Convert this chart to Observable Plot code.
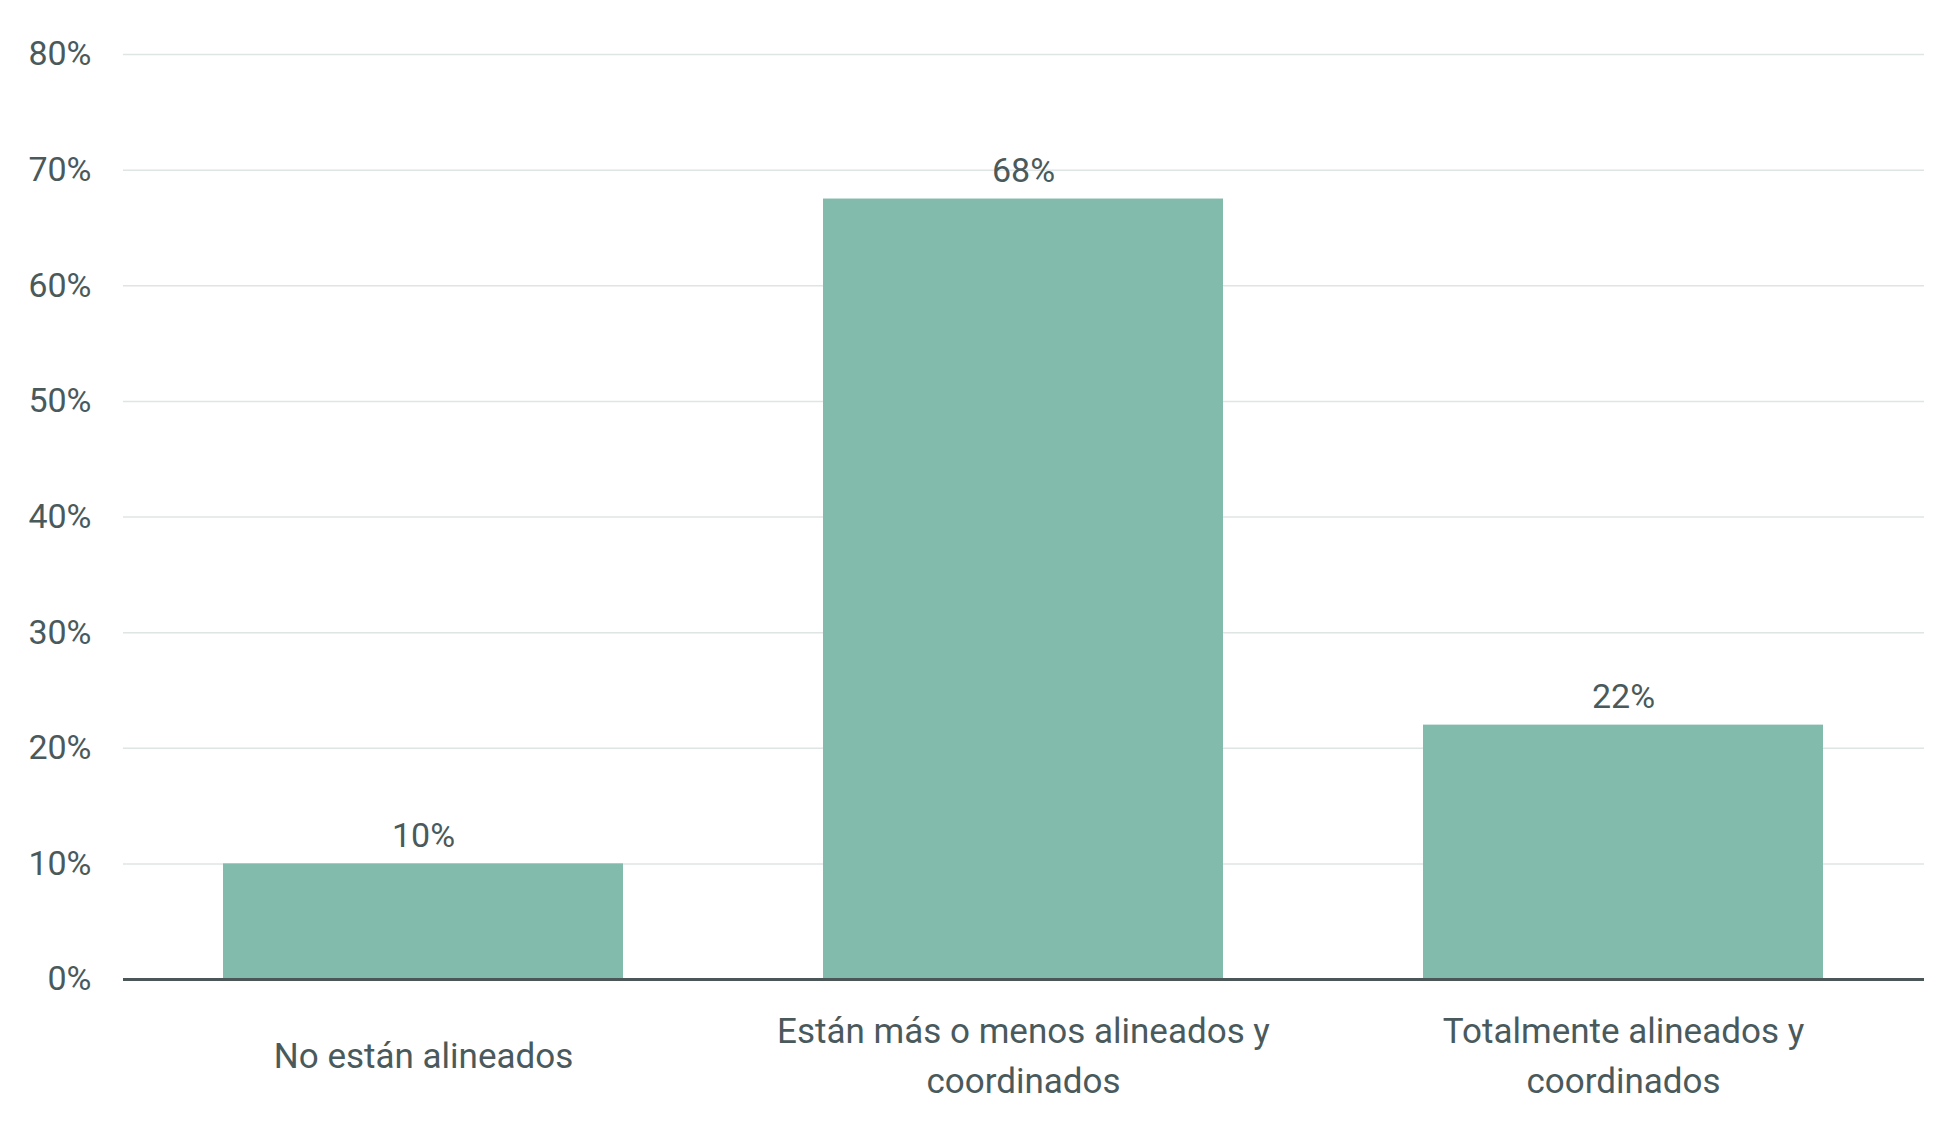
<!DOCTYPE html>
<html><head><meta charset="utf-8">
<script src="https://cdn.jsdelivr.net/npm/d3@7"></script>
<script src="https://cdn.jsdelivr.net/npm/@observablehq/plot@0.6"></script>
<style>body{margin:0;background:#fff} svg{display:block}</style>
</head><body><div id="chart"></div>
<script>
const categories = ["No están alineados", "Están más o menos alineados y coordinados", "Totalmente alineados y coordinados"];
const categoryLabels = ["No están alineados", "Están más o menos alineados y\ncoordinados", "Totalmente alineados y\ncoordinados"];
const values = [10, 67.5, 22];
const valueLabels = ["10%", "68%", "22%"];
const yTicks = [0, 10, 20, 30, 40, 50, 60, 70, 80];

const data = categories.map((c, i) => ({category: c, value: values[i], label: valueLabels[i]}));
const textColor = "#4a5a5c";
const fs = 34;
const fsX = 35;

const chart = Plot.plot({
  width: 1949,
  height: 1129,
  marginLeft: 123,
  marginRight: 25,
  marginTop: 54,
  marginBottom: 150,
  style: {fontFamily: "Roboto, sans-serif", color: textColor, background: "#fff"},
  x: {domain: categories, paddingInner: 0.333, paddingOuter: 0.1667, label: null},
  y: {domain: [0, 80], label: null},
  marks: [
    Plot.ruleY(yTicks.filter(d => d > 0), {stroke: "#dfe4e4", strokeWidth: 1.5}),
    Plot.barY(data, {x: "category", y: "value", fill: "#82baac"}),
    Plot.text(data, {x: "category", y: "value", text: "label", dy: -28, fontSize: fs, fill: textColor}),
    Plot.ruleY([0], {stroke: "#4b5658", strokeWidth: 3}),
    Plot.axisY({ticks: yTicks, tickFormat: d => d + "%", tickSize: 0, tickPadding: 32, fontSize: fs, label: null, fill: textColor}),
    Plot.axisX({tickSize: 0, tickPadding: 72, tickFormat: d => categoryLabels[categories.indexOf(d)], lineAnchor: "middle", lineHeight: 1.43, fontSize: fsX, label: null, fill: textColor})
  ]
});
document.getElementById("chart").appendChild(chart);
</script>
</body></html>
